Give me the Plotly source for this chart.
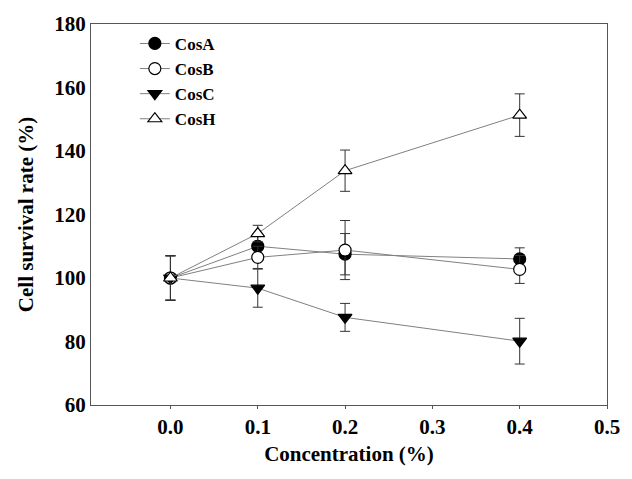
import plotly.graph_objects as go

conc = [0.0, 0.1, 0.2, 0.4]

cosA = [100.0, 110.0, 107.5, 106.0]
cosA_err = [7.0, 4.0, 6.5, 3.5]
cosB = [100.0, 106.5, 108.8, 102.7]
cosB_err = [7.0, 3.5, 9.3, 4.4]
cosC = [100.0, 96.8, 87.6, 80.1]
cosC_err = [7.0, 6.0, 4.4, 7.2]
cosH = [100.0, 114.0, 133.8, 151.3]
cosH_err = [7.0, 2.6, 6.5, 6.7]

x_ticks = [0.0, 0.1, 0.2, 0.3, 0.4, 0.5]
x_tick_labels = ["0.0", "0.1", "0.2", "0.3", "0.4", "0.5"]
y_ticks = [60, 80, 100, 120, 140, 160, 180]

FONT = "Liberation Serif"

series = [
    ("CosA", cosA, cosA_err, "circle", "black"),
    ("CosB", cosB, cosB_err, "circle", "white"),
    ("CosC", cosC, cosC_err, "triangle-down", "black"),
    ("CosH", cosH, cosH_err, "triangle-up", "white"),
]

fig = go.Figure()
for name, ys, errs, sym, fill in series:
    fig.add_trace(go.Scatter(
        x=conc, y=ys, name=name, mode="lines+markers",
        line=dict(color="#808080", width=1),
        marker=dict(symbol=sym, size=12, color=fill,
                    line=dict(color="black", width=1.2)),
        error_y=dict(type="data", array=errs, visible=True,
                     color="#333333", thickness=1, width=5),
    ))

fig.update_layout(
    width=632, height=479,
    margin=dict(l=91, r=20, t=14, b=74),
    paper_bgcolor="white", plot_bgcolor="white",
    font=dict(family=FONT, color="black", size=18, weight="bold"),
    showlegend=True,
    legend=dict(x=0.085, y=0.995, xanchor="left", yanchor="top",
                bgcolor="rgba(0,0,0,0)", borderwidth=0,
                font=dict(family=FONT, size=17, weight="bold"),
                itemwidth=30, tracegroupgap=0),
)
fig.update_xaxes(
    range=[-0.091, 0.5], tickvals=x_ticks, ticktext=x_tick_labels,
    showgrid=False, zeroline=False, showline=True, mirror=True,
    linecolor="#555555", linewidth=1,
    ticks="outside", ticklen=3, tickcolor="#555555",
    tickfont=dict(family=FONT, size=21, weight="bold"),
    title=dict(text="Concentration (%)", standoff=8,
               font=dict(family=FONT, size=21, weight="bold")),
)
fig.update_yaxes(
    range=[60, 180], tickvals=y_ticks,
    showgrid=False, zeroline=False, showline=True, mirror=True,
    linecolor="#555555", linewidth=1,
    ticks="", ticklen=0,
    tickfont=dict(family=FONT, size=21, weight="bold"),
    title=dict(text="Cell survival rate (%)", standoff=14,
               font=dict(family=FONT, size=21, weight="bold")),
)

fig.write_html("out.html")
